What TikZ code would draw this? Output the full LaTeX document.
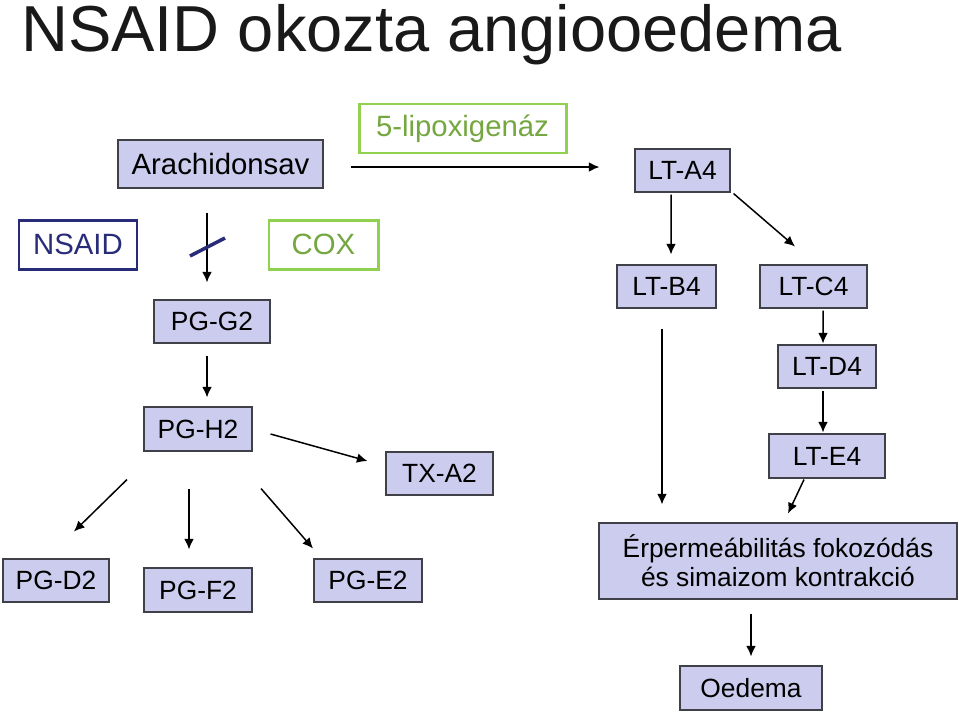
\documentclass[tikz,border=0pt]{standalone}
\usepackage{fontspec}
\setmainfont{Liberation Sans}
\usepackage{xcolor}
\usepackage{tikz}
\usetikzlibrary{arrows.meta,calc}

\definecolor{lila}{RGB}{204,204,238}
\definecolor{keret}{RGB}{64,64,72}
\definecolor{zold}{RGB}{146,208,80}
\definecolor{sotetkek}{RGB}{40,44,120}

\tikzset{
	anyag/.style={draw=keret,line width=0.6pt,fill=lila,inner sep=0pt,
		font=\fontsize{15}{16.5}\selectfont},
	enzim/.style={draw=zold,line width=1.7pt,fill=white,inner sep=0pt,text=zold!80!black,
		font=\fontsize{16.7}{18}\selectfont},
	gyogyszer/.style={draw=sotetkek,line width=1.7pt,fill=white,inner sep=0pt,text=sotetkek,
		font=\fontsize{16.7}{18}\selectfont},
	nyil/.style={->,line width=0.85pt}
}

\begin{document}
\begin{tikzpicture}[x=0.02cm,y=-0.02cm,>={Latex[length=6pt,width=5.5pt]}]
	\useasboundingbox (0,0) rectangle (959,714);
	
	\node[anchor=base west,font=\fontsize{37}{40}\selectfont,text=black!90] (cim) at (15,51) {NSAID okozta angiooedema};
	
	% prosztaglandin ag
	\node[anyag,minimum width=205*0.02cm,minimum height=48*0.02cm,font=\fontsize{16.7}{18}\selectfont] (arach) at (220.5,164) {Arachidonsav};
	\node[gyogyszer,minimum width=118*0.02cm,minimum height=49*0.02cm] (nsaid) at (78,244.5) {NSAID};
	\node[enzim,minimum width=109*0.02cm,minimum height=49*0.02cm] (cox) at (323.5,244.5) {COX};
	\node[anyag,minimum width=116*0.02cm,minimum height=43*0.02cm] (pgG2) at (212,321.5) {PG-G2};
	\node[anyag,minimum width=108*0.02cm,minimum height=44*0.02cm] (pgH2) at (198,429) {PG-H2};
	\node[anyag,minimum width=107*0.02cm,minimum height=43*0.02cm] (txA2) at (439.5,473.5) {TX-A2};
	\node[anyag,minimum width=106*0.02cm,minimum height=43*0.02cm] (pgD2) at (56,580.5) {PG-D2};
	\node[anyag,minimum width=108*0.02cm,minimum height=44*0.02cm] (pgF2) at (198,590) {PG-F2};
	\node[anyag,minimum width=108*0.02cm,minimum height=43*0.02cm] (pgE2) at (368,580.5) {PG-E2};
	
	% leukotrien ag
	\node[enzim,minimum width=207*0.02cm,minimum height=49*0.02cm] (lipox) at (462.5,128.5) {5-lipoxigenáz};
	\node[anyag,minimum width=95*0.02cm,minimum height=43*0.02cm] (ltA4) at (682.5,170.5) {LT-A4};
	\node[anyag,minimum width=99*0.02cm,minimum height=43*0.02cm] (ltB4) at (666.5,286.5) {LT-B4};
	\node[anyag,minimum width=107*0.02cm,minimum height=43*0.02cm] (ltC4) at (813.5,286.5) {LT-C4};
	\node[anyag,minimum width=98*0.02cm,minimum height=43*0.02cm] (ltD4) at (827,366.5) {LT-D4};
	\node[anyag,minimum width=116*0.02cm,minimum height=44*0.02cm] (ltE4) at (827,456) {LT-E4};
	\node[anyag,minimum width=358*0.02cm,minimum height=76*0.02cm,align=center] (erperm) at (778,561) {Érpermeábilitás fokozódás\\és simaizom kontrakció};
	\node[anyag,minimum width=142*0.02cm,minimum height=44*0.02cm] (oedema) at (751,688) {Oedema};
	
	\draw[nyil] ($(arach.south)+(-13.5,24)$) -- ($(pgG2.north)+(-5,-17)$);
	\draw[sotetkek,line width=2pt] (190,256) -- (225,238);
	\draw[nyil] ($(pgG2.south)+(-5,12)$) -- ($(pgH2.north)+(9,-9)$);
	\draw[nyil] ($(pgH2.east)+(18,5)$) -- ($(txA2.west)+(-18,-12.5)$);
	\draw[nyil] ($(pgH2.south)+(-71,28)$) -- ($(pgD2.north)+(18,-27)$);
	\draw[nyil] ($(pgH2.south)+(-9,37)$) -- ($(pgF2.north)+(-9,-18)$);
	\draw[nyil] ($(pgH2.south)+(63,37)$) -- ($(pgE2.north)+(-55,-10)$);
	
	\draw[nyil] ($(arach.east)+(27,3)$) -- ($(ltA4.west)+(-35,-3.5)$);
	\draw[nyil] ($(ltA4.south)+(-11.5,2)$) -- ($(ltB4.north)+(4.5,-10)$);
	\draw[nyil] ($(ltA4.south east)+(3,1)$) -- ($(ltC4.north)+(-18.5,-18)$);
	\draw[nyil] ($(ltC4.south)+(9.5,2)$) -- ($(ltD4.north)+(-4,-1)$);
	\draw[nyil] ($(ltD4.south)+(-4,2)$) -- ($(ltE4.north)+(-4,-1)$);
	\draw[nyil] ($(ltB4.south)+(-4.5,20)$) -- ($(erperm.north)+(-116,-18)$);
	\draw[nyil] ($(ltE4.south)+(-23,1)$) -- ($(erperm.north)+(10,-9)$);
	\draw[nyil] ($(erperm.south)+(-27,14)$) -- ($(oedema.north)+(0,-9)$);
\end{tikzpicture}
\end{document}
